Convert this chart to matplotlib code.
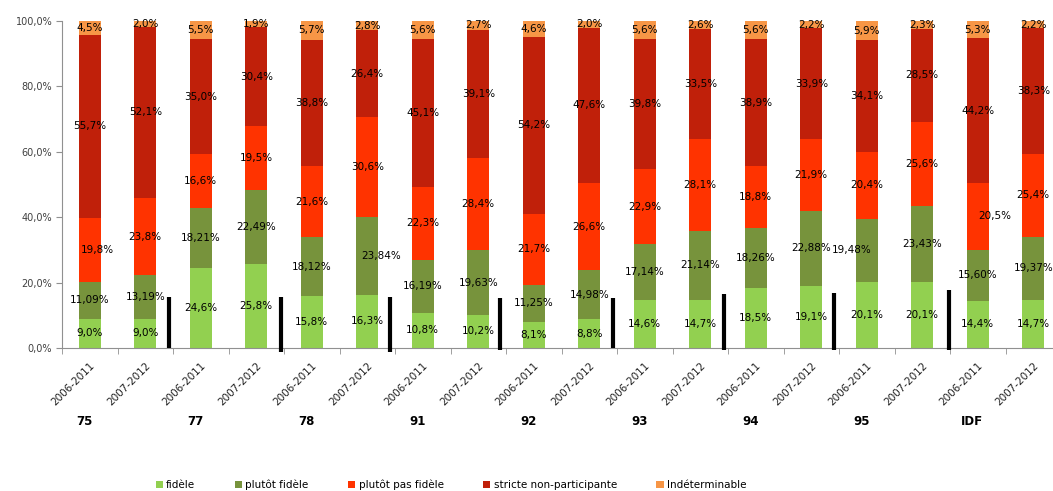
import numpy as np
import matplotlib
matplotlib.use("Agg")
import matplotlib.pyplot as plt

# departements (two periods each)
GROUPS = ["75", "77", "78", "91", "92", "93", "94", "95", "IDF"]
PERIODS = ["2006-2011", "2007-2012"]

SERIES = ["fidèle", "plutôt fidèle", "plutôt pas fidèle",
          "stricte non-participante", "Indéterminable"]
COLORS = ["#92D050", "#77933C", "#FF3300", "#C0200A", "#F79646"]

fidele = [9.0, 9.0, 24.6, 25.8, 15.8, 16.3, 10.8, 10.2, 8.1,
          8.8, 14.6, 14.7, 18.5, 19.1, 20.1, 20.1, 14.4, 14.7]
plutot_fidele = [11.09, 13.19, 18.21, 22.49, 18.12, 23.84, 16.19, 19.63, 11.25,
                 14.98, 17.14, 21.14, 18.26, 22.88, 19.48, 23.43, 15.60, 19.37]
plutot_pas = [19.8, 23.8, 16.6, 19.5, 21.6, 30.6, 22.3, 28.4, 21.7,
              26.6, 22.9, 28.1, 18.8, 21.9, 20.4, 25.6, 20.5, 25.4]
stricte = [55.7, 52.1, 35.0, 30.4, 38.8, 26.4, 45.1, 39.1, 54.2,
           47.6, 39.8, 33.5, 38.9, 33.9, 34.1, 28.5, 44.2, 38.3]
indet = [4.5, 2.0, 5.5, 1.9, 5.7, 2.8, 5.6, 2.7, 4.6,
         2.0, 5.6, 2.6, 5.6, 2.2, 5.9, 2.3, 5.3, 2.2]

# number of decimals shown per series
DECIMALS = [1, 2, 1, 1, 1]

# labels that were nudged sideways in the original (bar, series) -> dx
LABEL_DX = {(0, 2): 0.13, (5, 1): 0.25, (14, 1): -0.27, (16, 2): 0.31}

# hand-drawn black separators between departements
sep_x = [1.43, 3.44, 5.41, 7.39, 9.42, 11.42, 13.41, 15.48]
sep_top = [15.6, 15.6, 15.6, 15.3, 15.3, 16.5, 16.8, 17.7]
sep_bottom = [0.0, -1.2, -1.2, -0.6, 0.0, -0.6, -0.6, -0.6]


def fmt(v, d):
    return f"{v:.{d}f}".replace(".", ",") + "%"


def main():
    values = np.array([fidele, plutot_fidele, plutot_pas, stricte, indet])
    n = values.shape[1]
    x = np.arange(n)

    fig = plt.figure(figsize=(10.53, 4.91), dpi=100)
    ax = fig.add_axes([62 / 1053, 1 - 348 / 491, 999 / 1053, 327 / 491])

    bottom = np.zeros(n)
    for k, (name, col) in enumerate(zip(SERIES, COLORS)):
        ax.bar(x, values[k], 0.4, bottom=bottom, color=col, label=name, zorder=2)
        for i in range(n):
            dx = LABEL_DX.get((i, k), 0.0)
            ax.text(x[i] + dx, bottom[i] + values[k, i] / 2, fmt(values[k, i], DECIMALS[k]),
                    ha="center", va="center", fontsize=7.5, color="black", zorder=3)
        bottom += values[k]

    for sx, st, sb in zip(sep_x, sep_top, sep_bottom):
        ax.plot([sx, sx], [sb, st], color="black", lw=3, solid_capstyle="butt",
                clip_on=False, zorder=4)

    ax.set_xlim(-0.5, n - 0.5)
    ax.set_ylim(0, 100)
    ax.set_yticks(np.arange(0, 101, 20))
    ax.set_yticklabels([fmt(v, 1) for v in range(0, 101, 20)], fontsize=7, color="#404040")
    ax.tick_params(axis="y", length=4, color="#909090", pad=3)

    # category labels centred on bars, boundary ticks between them
    ax.set_xticks(x)
    ax.set_xticklabels(PERIODS * len(GROUPS), rotation=45, ha="right",
                       rotation_mode="anchor", fontsize=7.5, color="#202020")
    ax.tick_params(axis="x", length=0, pad=9)
    ax.set_xticks(np.arange(-0.5, n, 1), minor=True)
    ax.tick_params(axis="x", which="minor", length=4, color="#909090")

    for g, name in enumerate(GROUPS):
        ax.text(2 * g - 0.1, -22.5, name, ha="center", va="center",
                fontsize=8.5, fontweight="bold", transform=ax.transData, clip_on=False)

    for s in ("top", "right"):
        ax.spines[s].set_visible(False)
    for s in ("left", "bottom"):
        ax.spines[s].set_color("#909090")

    fig.legend(loc="center", bbox_to_anchor=(451 / 1053, 1 - 485 / 491), ncol=5,
               frameon=False, fontsize=7.5, handlelength=0.7, handleheight=0.7,
               handletextpad=0.3, columnspacing=3.8)

    fig.savefig("out.png", dpi=100)
    plt.close(fig)


if __name__ == "__main__":
    main()
